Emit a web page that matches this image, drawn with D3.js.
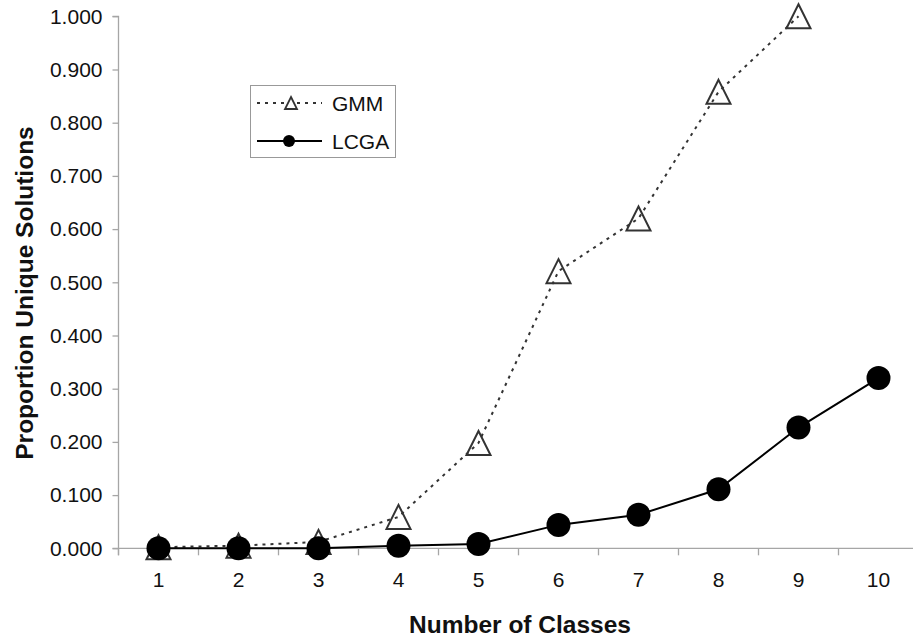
<!DOCTYPE html>
<html><head><meta charset="utf-8">
<script src="https://cdn.jsdelivr.net/npm/d3@7"></script>
<style>body{margin:0;background:#fff}svg{display:block}text{font-family:"Liberation Sans",Arial,sans-serif}</style>
</head><body>
<script>
const categories = [1,2,3,4,5,6,7,8,9,10];
const gmm = [0.002,0.005,0.012,0.059,0.198,0.521,0.620,0.858,1.000,null];
const lcga = [0.000,0.000,0.000,0.005,0.008,0.044,0.063,0.111,0.227,0.320];
const yTicks = [0,0.1,0.2,0.3,0.4,0.5,0.6,0.7,0.8,0.9,1.0];
const seriesNames = ["GMM","LCGA"];

const W=913,H=638;
const svg=d3.select("body").append("svg").attr("width",W).attr("height",H);
const x=d3.scaleBand().domain(categories).range([118.5,918.5]);
const y=d3.scaleLinear().domain([0,1]).range([548.3,16.3]);
const axisColor="#a6a6a6";

// y axis
const ya=svg.append("g").attr("transform","translate(118.5,0)")
  .call(d3.axisLeft(y).tickValues(yTicks).tickFormat(d3.format(".3f")).tickSize(6).tickPadding(10));
ya.select(".domain").attr("stroke",axisColor).attr("stroke-width",1.3).attr("d",`M-6,${y(1)}H0V${y(0)+7}`);
ya.selectAll(".tick line").attr("stroke",axisColor).attr("stroke-width",1.3);
ya.selectAll(".tick text").attr("font-size",21).attr("fill","#111").attr("font-family","Liberation Sans, Arial, sans-serif");

// x axis
const xa=svg.append("g").attr("transform",`translate(0,${y(0)})`)
  .call(d3.axisBottom(x).tickSize(0).tickPadding(24));
xa.select(".domain").attr("stroke",axisColor).attr("stroke-width",1.3).attr("d",`M112.5,0H918.5`);
xa.selectAll(".tick text").attr("font-size",21).attr("fill","#111").attr("font-family","Liberation Sans, Arial, sans-serif");
const bounds=categories.map(c=>x(c)).concat([x.range()[1]]);
svg.append("g").selectAll("line").data(bounds).join("line")
  .attr("x1",d=>d).attr("x2",d=>d).attr("y1",y(0)).attr("y2",y(0)+7)
  .attr("stroke",axisColor).attr("stroke-width",1.3);

const cx=c=>x(c)+x.bandwidth()/2;

// GMM
const gData=categories.map((c,i)=>({c,v:gmm[i]})).filter(d=>d.v!=null);
svg.append("path").datum(gData)
  .attr("d",d3.line().x(d=>cx(d.c)).y(d=>y(d.v)))
  .attr("fill","none").attr("stroke","#333").attr("stroke-width",2).attr("stroke-dasharray","3,5");
const tri=s=>`M0,${-s}L${s},${s}L${-s},${s}Z`;
svg.append("g").selectAll("path").data(gData).join("path")
  .attr("d",tri(12)).attr("transform",d=>`translate(${cx(d.c)},${y(d.v)})`)
  .attr("fill","none").attr("stroke","#333").attr("stroke-width",2);

// LCGA
const lData=categories.map((c,i)=>({c,v:lcga[i]}));
svg.append("path").datum(lData)
  .attr("d",d3.line().x(d=>cx(d.c)).y(d=>y(d.v)))
  .attr("fill","none").attr("stroke","#000").attr("stroke-width",2);
svg.append("g").selectAll("circle").data(lData).join("circle")
  .attr("cx",d=>cx(d.c)).attr("cy",d=>y(d.v)).attr("r",12).attr("fill","#000");

// Titles
svg.append("text").attr("x",520).attr("y",633).attr("text-anchor","middle")
  .attr("font-size",24.5).attr("font-weight","bold").attr("fill","#111").text("Number of Classes");
svg.append("text").attr("transform","translate(33,293) rotate(-90)").attr("text-anchor","middle")
  .attr("font-size",24.5).attr("font-weight","bold").attr("fill","#111").text("Proportion Unique Solutions");

// Legend
const lg=svg.append("g");
lg.append("rect").attr("x",250.5).attr("y",85.5).attr("width",145).attr("height",72)
  .attr("fill","#fff").attr("stroke","#999").attr("stroke-width",1);
const rows=[103,141];
lg.append("line").attr("x1",257).attr("x2",322).attr("y1",rows[0]).attr("y2",rows[0])
  .attr("stroke","#333").attr("stroke-width",2).attr("stroke-dasharray","3,5");
lg.append("path").attr("d",tri(6)).attr("transform",`translate(291,${rows[0]})`)
  .attr("fill","#fff").attr("stroke","#333").attr("stroke-width",1.8);
lg.append("line").attr("x1",257).attr("x2",322).attr("y1",rows[1]).attr("y2",rows[1])
  .attr("stroke","#000").attr("stroke-width",2);
lg.append("circle").attr("cx",289).attr("cy",rows[1]).attr("r",6).attr("fill","#000");
lg.selectAll("text.lt").data(seriesNames).join("text").attr("class","lt")
  .attr("x",332).attr("y",(d,i)=>rows[i]+7.5).attr("font-size",21).attr("fill","#111").text(d=>d);
</script>
</body></html>
